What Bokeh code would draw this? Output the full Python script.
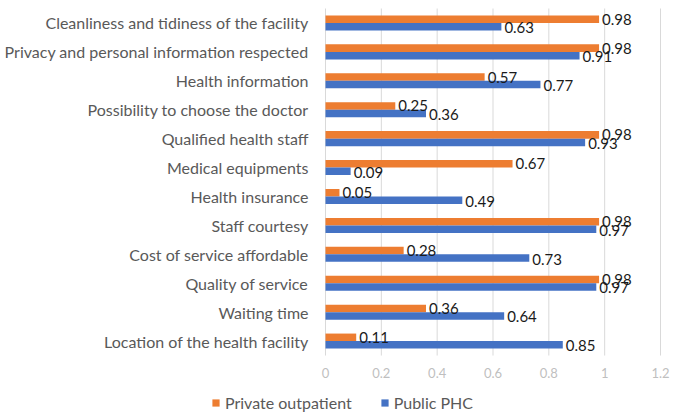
from bokeh.plotting import figure
from bokeh.models import ColumnDataSource, Range1d, Legend, LegendItem
from bokeh.transform import dodge
from bokeh.core.properties import value
from bokeh.embed import file_html
from bokeh.resources import INLINE

categories = [
    "Cleanliness and tidiness of the facility",
    "Privacy and personal information respected",
    "Health information",
    "Possibility to choose the doctor",
    "Qualified health staff",
    "Medical equipments",
    "Health insurance",
    "Staff courtesy",
    "Cost of service affordable",
    "Quality of service",
    "Waiting time",
    "Location of the health facility",
]
private_outpatient = [0.98, 0.98, 0.57, 0.25, 0.98, 0.67, 0.05, 0.98, 0.28, 0.98, 0.36, 0.11]
public_phc = [0.63, 0.91, 0.77, 0.36, 0.93, 0.09, 0.49, 0.97, 0.73, 0.97, 0.64, 0.85]
x_ticks = [0, 0.2, 0.4, 0.6, 0.8, 1.0, 1.2]
x_tick_labels = ["0", "0.2", "0.4", "0.6", "0.8", "1", "1.2"]
series_names = ["Private outpatient", "Public PHC"]

ORANGE = "#ED7D31"
BLUE = "#4472C4"
FONT = "Lato"

W, H = 671, 412
X0_PX, X12_PX = 325, 660          # pixel of x=0 and x=1.2
TOP_PX, BAND_PX = 8, 28.92        # top of category area, pixels per category
px_per_unit = (X12_PX - X0_PX) / 1.2
x_start = -X0_PX / px_per_unit
x_end = 1.2 + (W - X12_PX) / px_per_unit
y_top = -0.5 - TOP_PX / BAND_PX
y_bottom = y_top + H / BAND_PX

n = len(categories)
idx = list(range(n))

src = ColumnDataSource(dict(
    idx=idx,
    cat=categories,
    priv=private_outpatient,
    pub=public_phc,
    priv_lbl=["%g" % v for v in private_outpatient],
    pub_lbl=["%g" % v for v in public_phc],
))

p = figure(
    width=W, height=H,
    x_range=Range1d(x_start, x_end), y_range=Range1d(y_bottom, y_top),
    output_backend="svg", toolbar_location=None,
    min_border=0,
)
p.outline_line_color = None
p.background_fill_color = "white"
p.xaxis.visible = False
p.yaxis.visible = False
p.xgrid.visible = False
p.ygrid.visible = False

# vertical grid lines
grid_src = ColumnDataSource(dict(x=x_ticks, lbl=x_tick_labels,
                                 y0=[-0.5] * len(x_ticks), y1=[n - 0.5] * len(x_ticks),
                                 ylab=[n - 0.5 + 0.62] * len(x_ticks)))
p.segment(x0="x", x1="x", y0="y0", y1="y1", source=grid_src, line_color="#D9D9D9", line_width=1)
p.text(x="x", y="ylab", text="lbl", source=grid_src, text_align="center", text_baseline="middle",
       text_font=value(FONT), text_font_size="13px", text_color="#BFBFBF")

bh = 0.26
r1 = p.hbar(y=dodge("idx", -bh / 2), right="priv", left=0, height=bh,
            source=src, fill_color=ORANGE, line_color=None)
r2 = p.hbar(y=dodge("idx", bh / 2), right="pub", left=0, height=bh,
            source=src, fill_color=BLUE, line_color=None)

p.text(x="priv", y=dodge("idx", -bh / 2), text="priv_lbl", source=src,
       x_offset=3, y_offset=0, text_baseline="middle", text_align="left",
       text_font_size="15px", text_color="#1a1a1a", text_font=value(FONT))
p.text(x="pub", y=dodge("idx", bh / 2), text="pub_lbl", source=src,
       x_offset=3, y_offset=1, text_baseline="middle", text_align="left",
       text_font_size="15px", text_color="#1a1a1a", text_font=value(FONT))

# category labels
p.text(x=0, y="idx", text="cat", source=src, x_offset=-17, text_align="right",
       text_baseline="middle", text_font=value(FONT), text_font_size="16px", text_color="#595959")

legend = Legend(
    items=[LegendItem(label=series_names[0], renderers=[r1]),
           LegendItem(label=series_names[1], renderers=[r2])],
    location=(211, 0), orientation="horizontal",
    glyph_width=9, glyph_height=9, label_standoff=5, spacing=28,
    padding=0, margin=0, border_line_color=None, background_fill_alpha=0,
    label_text_font=FONT, label_text_font_size="16px", label_text_color="#595959",
    label_height=16,
)
p.add_layout(legend, "center")

open("out.html", "w").write(file_html(p, INLINE))
